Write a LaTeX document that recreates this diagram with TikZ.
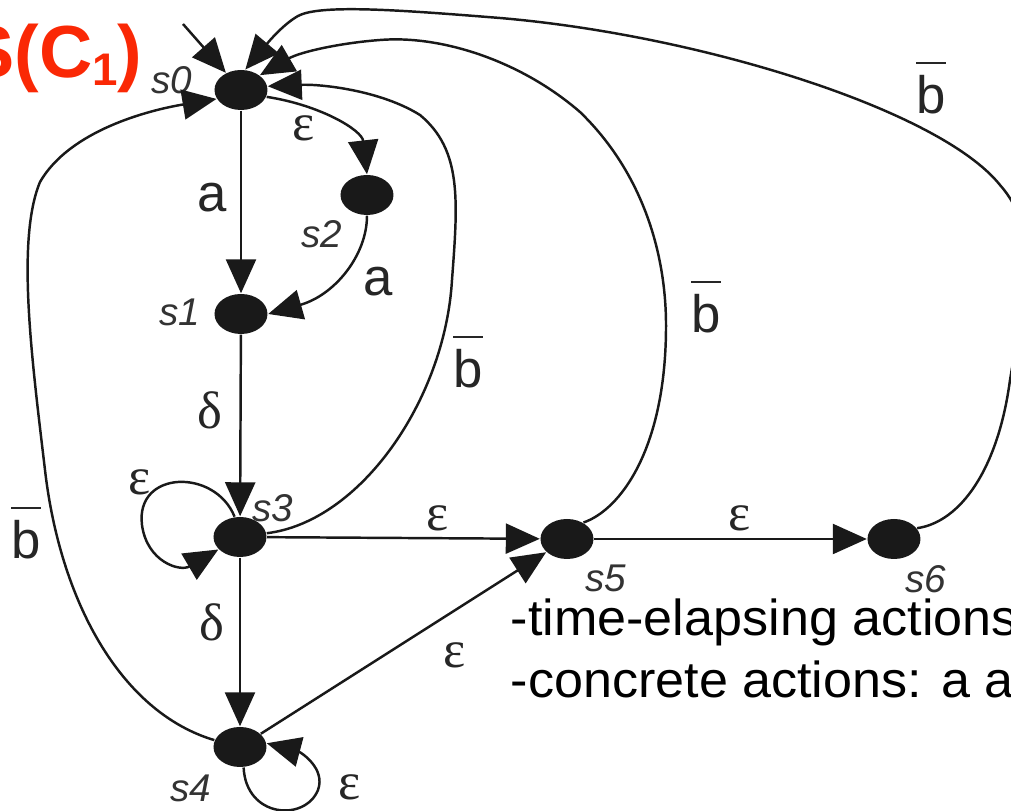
\documentclass[tikz,border=0pt]{standalone}
\usepackage{fontspec}
\setmainfont{Liberation Sans}
\newfontfamily\grk{Liberation Serif}
\usetikzlibrary{arrows.meta,shapes.geometric}
\definecolor{hdr}{RGB}{250,40,5}
\newcommand\nb{\hbox{\vbox{\hrule height 0.6pt\kern 3.2pt\hbox{b}}}}
\begin{document}
\begin{tikzpicture}[x=0.1mm,y=-0.1mm,
  st/.style={ellipse,fill=black!90,minimum width=5.3mm,minimum height=4mm,inner sep=0},
  tr/.style={-{Triangle[length=3.4mm,width=3mm]},line width=0.7pt,black!90},
  sl/.style={font=\fontsize{11}{13}\selectfont\itshape,text=black!80,inner sep=0},
  el/.style={font=\fontsize{15}{17}\selectfont,text=black!85,inner sep=0},
  gl/.style={font=\fontsize{15}{17}\selectfont\grk,text=black!85,inner sep=0},
  note/.style={font=\fontsize{14.4}{16}\selectfont,inner sep=0,anchor=base west,xscale=1.03}
]
\useasboundingbox (0,0) rectangle (1011,811);
\clip (0,0) rectangle (1011,811);

% states
\node[st] (s0) at (241,90) {};
\node[st] (s1) at (241,314) {};
\node[st] (s2) at (367,195) {};
\node[st] (s3) at (240,537) {};
\node[st] (s4) at (240,747) {};
\node[st] (s5) at (567,539) {};
\node[st] (s6) at (894,539) {};

% state names
\node[sl] (n0) at (172,80) {s0};
\node[sl] (n1) at (180,312) {s1};
\node[sl] (n2) at (322,234) {s2};
\node[sl] (n3) at (273,508) {s3};
\node[sl] (n4) at (191,788) {s4};
\node[sl] (n5) at (606,578) {s5};
\node[sl] (n6) at (926,579) {s6};

% title
\node[font=\fontsize{21}{23}\selectfont\bfseries,text=hdr,inner sep=0,anchor=base east] (title) at (143,78)
  {S(C\raisebox{-2pt}{\fontsize{13}{13}\selectfont 1})};

% initial arrow
\coordinate (init) at (183,24);
\draw[tr] (init) -- (s0);

% straight edges
\draw[tr] (s0) -- (s1);
\draw[tr] (s1) -- (s3);
\draw[tr] (s3) -- (s4);
\draw[tr] (s3) -- (s5);
\draw[tr] (s5) -- (s6);
\draw[tr] (s4) -- (s5);

% curved edges
\draw[tr] (s0.-15) .. controls (320,105) and (362,130) .. (s2.north);
\draw[tr] (s2.south) .. controls (367,255) and (335,295) .. (s1.east);
\draw[tr] (s3.105) .. controls (215,468) and (135,470) .. (142,525)
  .. controls (147,562) and (180,572) .. (s3.210);
\draw[tr] (s4.-80) .. controls (246,818) and (305,822) .. (318,790)
  .. controls (326,768) and (300,752) .. (s4.8);
\draw[tr] (s3.8) .. controls (360,522) and (445,400) .. (452,280)
  .. controls (458,200) and (462,150) .. (420,115)
  .. controls (380,90) and (320,84) .. (s0.8);
\draw[tr] (s5.45) .. controls (620,510) and (665,450) .. (666,330)
  .. controls (667,250) and (640,170) .. (580,112)
  .. controls (520,60) and (440,35) .. (380,40)
  .. controls (340,43) and (300,52) .. (s0.38);
\draw[tr] (s6.25) .. controls (960,522) and (998,470) .. (1010,380)
  .. controls (1025,290) and (1040,230) .. (1000,185)
  .. controls (940,110) and (700,35) .. (500,18)
  .. controls (400,10) and (320,4) .. (298,16)
  .. controls (282,25) and (266,45) .. (s0.78);
\draw[tr] (s4.165) .. controls (120,712) and (60,600) .. (45,470)
  .. controls (32,360) and (16,240) .. (40,182)
  .. controls (70,130) and (150,110) .. (s0.200);

% edge labels
\node[el] (la1) at (212,198) {a};
\node[el] (la2) at (378,282) {a};
\node[gl] (ld1) at (210,410) {δ};
\node[gl] (ld2) at (212,622) {δ};
\node[gl] (le1) at (304,128) {ε};
\node[gl] (le2) at (140,482) {ε};
\node[gl] (le3) at (438,518) {ε};
\node[gl] (le4) at (740,518) {ε};
\node[gl] (le5) at (455,655) {ε};
\node[gl] (le6) at (350,787) {ε};
\node[el] (lb1) at (468,362) {\nb};
\node[el] (lb2) at (706,307) {\nb};
\node[el] (lb3) at (931,88) {\nb};
\node[el] (lb4) at (26,533) {\nb};

% notes
\node[note] (t1) at (510,636) {-time-elapsing actions};
\node[note] (t2) at (510,698) {-concrete actions: a a};
\end{tikzpicture}
\end{document}
